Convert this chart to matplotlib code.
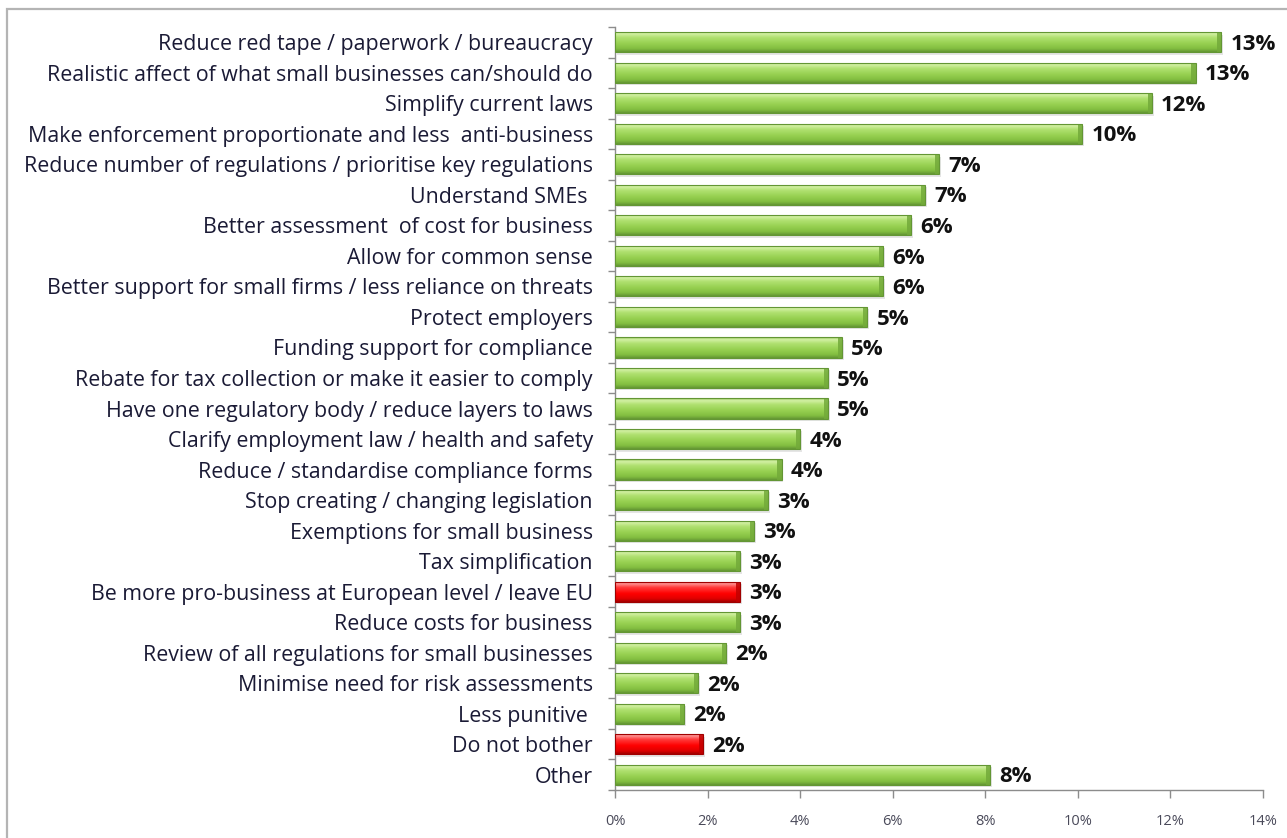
import matplotlib
matplotlib.use("Agg")
import matplotlib.pyplot as plt
import numpy as np
from matplotlib.colors import LinearSegmentedColormap
from matplotlib.patches import Rectangle
from matplotlib.ticker import FixedLocator, PercentFormatter

plt.rcParams['font.family'] = ['Open Sans', 'DejaVu Sans']

categories = [
    "Reduce red tape / paperwork / bureaucracy",
    "Realistic affect of what small businesses can/should do",
    "Simplify current laws",
    "Make enforcement proportionate and less  anti-business",
    "Reduce number of regulations / prioritise key regulations",
    "Understand SMEs ",
    "Better assessment  of cost for business",
    "Allow for common sense",
    "Better support for small firms / less reliance on threats",
    "Protect employers",
    "Funding support for compliance",
    "Rebate for tax collection or make it easier to comply",
    "Have one regulatory body / reduce layers to laws",
    "Clarify employment law / health and safety",
    "Reduce / standardise compliance forms",
    "Stop creating / changing legislation",
    "Exemptions for small business",
    "Tax simplification",
    "Be more pro-business at European level / leave EU",
    "Reduce costs for business",
    "Review of all regulations for small businesses",
    "Minimise need for risk assessments",
    "Less punitive ",
    "Do not bother",
    "Other",
]
values = [13.1, 12.55, 11.6, 10.1, 7.0, 6.7, 6.4, 5.8, 5.8, 5.45, 4.9, 4.6, 4.6,
          4.0, 3.6, 3.3, 3.0, 2.7, 2.7, 2.7, 2.4, 1.8, 1.5, 1.9, 8.1]
highlight = ["Be more pro-business at European level / leave EU", "Do not bother"]
x_ticks = [0, 2, 4, 6, 8, 10, 12, 14]

green_cmap = LinearSegmentedColormap.from_list("green_bevel", [
    (0.00, "#88bc4c"), (0.10, "#d6f2a8"), (0.30, "#b0e171"),
    (0.60, "#96d050"), (0.85, "#82bd40"), (1.00, "#639634")])
red_cmap = LinearSegmentedColormap.from_list("red_bevel", [
    (0.00, "#e04040"), (0.10, "#ff9a9a"), (0.30, "#ff3b3b"),
    (0.60, "#ff0000"), (0.85, "#e00000"), (1.00, "#a00000")])

fig = plt.figure(figsize=(12.87, 8.38), dpi=100)
fig.patch.set_facecolor("white")

# outer frame of the chart area
fig.add_artist(Rectangle((7 / 1287, -0.05), 1.1, 1 - 9 / 838 + 0.05,
                         transform=fig.transFigure, fill=False,
                         edgecolor="#b4b4b4", linewidth=1.6))

ax = fig.add_axes([615 / 1287, 48 / 838, 647.7 / 1287, 763 / 838])

n = len(categories)
y = np.arange(n)
bars = ax.barh(y, values, height=0.66, color="none", edgecolor="none", zorder=3)

grad = np.linspace(0, 1, 64).reshape(-1, 1)
for bar, cat, v in zip(bars, categories, values):
    x0, y0 = bar.get_x(), bar.get_y()
    w, h = bar.get_width(), bar.get_height()
    cmap = red_cmap if cat in highlight else green_cmap
    # soft drop shadow
    ax.add_patch(Rectangle((x0 + 0.04, y0 + 0.08), w, h, facecolor="#000000",
                           alpha=0.10, edgecolor="none", zorder=2))
    im = ax.imshow(grad, cmap=cmap, aspect="auto", interpolation="bicubic",
                   extent=(x0, x0 + w, y0 + h, y0), zorder=3)
    im.set_clip_path(bar)
    # darker bevel at the bar end
    ax.add_patch(Rectangle((x0 + w - 0.09, y0), 0.09, h, facecolor=cmap(0.92),
                           edgecolor="none", alpha=0.85, zorder=4))
    ax.add_patch(Rectangle((x0, y0), w, h, facecolor="none",
                           edgecolor=cmap(1.0), linewidth=0.8, zorder=5))
    ax.text(x0 + w + 0.2, y0 + h / 2 + 0.07, f"{v:.0f}%",
            va="center", ha="left", fontsize=16, fontweight="bold",
            color="#111111", zorder=6)

ax.set_xlim(0, 14)
ax.set_ylim(n - 0.5, -0.5)
ax.xaxis.set_major_locator(FixedLocator(x_ticks))
ax.xaxis.set_major_formatter(PercentFormatter(decimals=0))
ax.set_yticks(y)
ax.set_yticklabels(categories)
ax.yaxis.set_minor_locator(FixedLocator(np.arange(-0.5, n, 1.0)))

ax.tick_params(axis="y", which="major", length=0, pad=16, labelsize=15.4,
               labelcolor="#1a1a35")
ax.tick_params(axis="y", which="minor", length=5, width=1, color="#8c8c8c",
               direction="out")
ax.tick_params(axis="x", which="major", length=6, width=1, color="#8c8c8c",
               direction="out", pad=11, labelsize=10.5, labelcolor="#4a4a5a")

for side in ("top", "right"):
    ax.spines[side].set_visible(False)
for side in ("left", "bottom"):
    ax.spines[side].set_color("#8c8c8c")
    ax.spines[side].set_linewidth(1.0)

fig.savefig("out.png", dpi=100, facecolor="white")
